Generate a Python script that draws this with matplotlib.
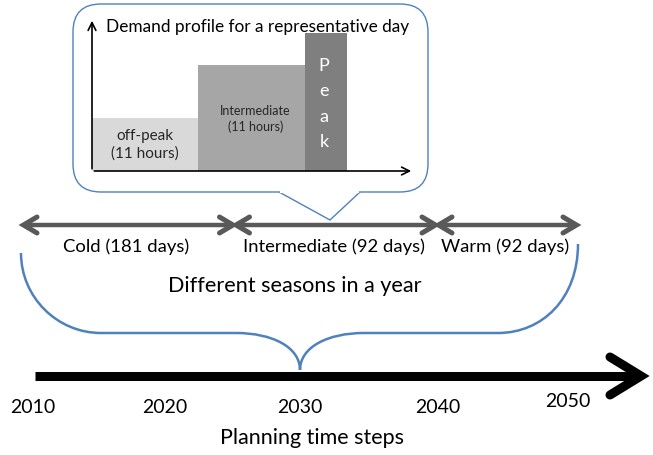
import numpy as np
import matplotlib
matplotlib.use('Agg')
import matplotlib.pyplot as plt
from matplotlib.patches import FancyBboxPatch, Polygon, PathPatch
from matplotlib.path import Path

plt.rcParams['font.family'] = ['Lato', 'DejaVu Sans']

# demand profile (schematic, widths ~ hours, heights ~ demand level)
bar_names = ['off-peak\n(11 hours)', 'Intermediate\n(11 hours)', 'Peak']
bar_widths = [106, 107, 42]
bar_levels = [53, 106, 138]
bar_colors = ['#d9d9d9', '#a6a6a6', '#7f7f7f']

# seasons
seasons = ['Cold (181 days)', 'Intermediate (92 days)', 'Warm (92 days)']
season_edges = [22, 234.5, 437, 578]

# planning years
years = ['2010', '2020', '2030', '2040', '2050']
year_x = [33, 165, 300, 438, 568]

fig = plt.figure(figsize=(6.53, 4.56), dpi=100)
ax = fig.add_axes([0, 0, 1, 1])
ax.set_xlim(0, 653)
ax.set_ylim(456, 0)
ax.axis('off')

blue = '#4f81bd'
grey = '#595959'

# callout box
box = FancyBboxPatch((73, 5), 355, 188, boxstyle='round,pad=0,rounding_size=28',
                     fc='white', ec=blue, lw=1.0, zorder=1)
ax.add_patch(box)
ax.add_patch(Polygon([(279, 193), (330, 221), (360, 193)], closed=False,
                     fc='white', ec=blue, lw=1.0, zorder=1))
ax.plot([281, 358], [193, 193], color='white', lw=1.6, zorder=2)

# demand bars (y axis is inverted, so bars hang from base - level)
base = 172
x0 = 92
lefts = np.cumsum([x0] + bar_widths[:-1])
ax.bar(lefts, bar_levels, width=bar_widths, bottom=[base - h for h in bar_levels],
       align='edge', color=bar_colors, zorder=2)
ax.text(lefts[0] + bar_widths[0] / 2, 145, bar_names[0], ha='center', va='center',
        fontsize=11, color='#262626', linespacing=1.25, zorder=3)
ax.text(lefts[1] + bar_widths[1] / 2 + 4, 119, bar_names[1], ha='center', va='center',
        fontsize=9, color='#262626', linespacing=1.3, zorder=3)
for i, ch in enumerate(bar_names[2]):
    ax.text(lefts[2] + bar_widths[2] / 2 - 2, 66 + i * 25.5, ch, ha='center', va='center',
            fontsize=13, color='white', zorder=3)

# inner axes arrows
ax.annotate('', xy=(92, 19), xytext=(92, base + 0.5),
            arrowprops=dict(arrowstyle='->', color='black', lw=1.2, mutation_scale=14), zorder=4)
ax.annotate('', xy=(414, base), xytext=(91.5, base),
            arrowprops=dict(arrowstyle='->', color='black', lw=1.2, mutation_scale=14), zorder=4)
ax.text(106, 27, 'Demand profile for a representative day', ha='left', va='center',
        fontsize=12.4, color='black', zorder=4)

# season arrows
ya = 226
for a, b, lab in zip(season_edges[:-1], season_edges[1:], seasons):
    ax.plot([a + 2, b - 2], [ya, ya], color=grey, lw=3.2, solid_capstyle='butt')
    ax.plot([a + 15, a + 1.5, a + 15], [ya - 8, ya, ya + 8], color=grey, lw=3.6,
            solid_capstyle='round', solid_joinstyle='miter')
    ax.plot([b - 15, b - 1.5, b - 15], [ya - 8, ya, ya + 8], color=grey, lw=3.6,
            solid_capstyle='round', solid_joinstyle='miter')
    ax.text((a + b) / 2 - 2, 247, lab, ha='center', va='center', fontsize=13.3, color='black')

# brace
verts = [(21, 254), (21, 298), (57, 334), (101, 334),
         (236, 334),
         (272, 334), (300, 348), (300, 371),
         (300, 348), (328, 334), (364, 334),
         (498, 334),
         (542, 334), (578, 300), (578, 245)]
codes = [Path.MOVETO, Path.CURVE4, Path.CURVE4, Path.CURVE4,
         Path.LINETO,
         Path.CURVE4, Path.CURVE4, Path.CURVE4,
         Path.CURVE4, Path.CURVE4, Path.CURVE4,
         Path.LINETO,
         Path.CURVE4, Path.CURVE4, Path.CURVE4]
ax.add_patch(PathPatch(Path(verts, codes), fc='none', ec=blue, lw=1.8))
ax.text(295, 286, 'Different seasons in a year', ha='center', va='center',
        fontsize=15.6, color='black')

# planning timeline
ax.plot([35, 636], [377, 377], color='black', lw=6.5, solid_capstyle='butt')
ax.plot([610, 641, 610], [358, 377, 396], color='black', lw=6.5,
        solid_capstyle='round', solid_joinstyle='miter')
for x, y in zip(year_x, years):
    ax.text(x, 408 if y != '2050' else 402, y, ha='center', va='center',
            fontsize=14, color='black')
ax.text(312, 438, 'Planning time steps', ha='center', va='center', fontsize=15.5, color='black')

fig.savefig('out.png', dpi=100)
